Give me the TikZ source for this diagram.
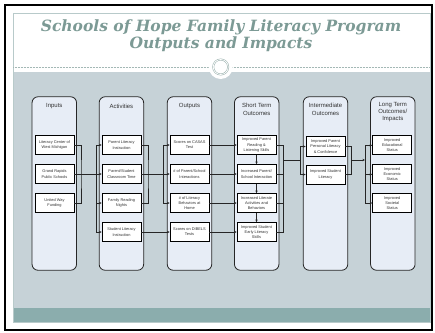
\documentclass[tikz,border=0pt]{standalone}
\usepackage{fontspec}
\setmainfont{Liberation Sans}
\newfontfamily\titlefont{DejaVu Serif}
\usetikzlibrary{arrows.meta,calc}
\definecolor{bodygray}{HTML}{C6D2D7}
\definecolor{colfill}{HTML}{E7EDF6}
\definecolor{tealband}{HTML}{8BADAD}
\definecolor{titlecol}{HTML}{7C9A95}
\definecolor{framecol}{HTML}{B8CACA}
\tikzset{
  colbox/.style={draw=black!85, line width=0.8pt, fill=colfill, rounded corners=6pt, minimum width=44.5pt, minimum height=173.5pt, inner sep=0pt},
  head/.style={font=\fontsize{6}{7.4}\selectfont, text=black!80, align=center, inner sep=0pt},
  item/.style={draw=black, line width=0.8pt, fill=white, minimum width=39pt, minimum height=19pt, inner sep=0.5pt, align=center, font=\fontsize{3.9}{5.3}\selectfont, text=black!80},
  conn/.style={line width=0.8pt, draw=black!85},
  arr/.style={conn, -{Stealth[length=2.6pt,width=2.4pt]}},
  ttl/.style={font=\titlefont\bfseries\itshape\fontsize{15.5}{16}\selectfont, text=titlecol, inner sep=0pt},
}
\begin{document}
\begin{tikzpicture}[x=1pt,y=-1pt]
\useasboundingbox (0,0) rectangle (435,332);
\fill[white] (0,0) rectangle (435,332);
% slide
\fill[bodygray] (13,72) rectangle (430,308);
\fill[tealband] (13,308) rectangle (430,322);
\draw[framecol, line width=0.6pt] (13,13) rectangle (430,322);
\draw[black, line width=2pt] (5,5) rectangle (432,330);
% title
\node[ttl] (t1) at (221,27) {Schools of Hope Family Literacy Program};
\node[ttl] (t2) at (221,44) {Outputs and Impacts};
\draw[titlecol!70, line width=0.5pt, densely dotted] (13,67) -- (430,67);
\fill[white] (220.7,67) circle (12pt);
\node[circle, draw=titlecol!80, double=white, double distance=0.8pt, line width=0.5pt, minimum size=15pt, fill=white] (circ) at (220.7,67) {};
% columns
\node[colbox] (cA) at (54.3,183.5) {};
\node[colbox] (cB) at (121.4,183.5) {};
\node[colbox] (cC) at (189.5,183.5) {};
\node[colbox] (cD) at (256.7,183.5) {};
\node[colbox] (cE) at (325.5,183.5) {};
\node[colbox] (cF) at (392.8,183.5) {};
\node[head] (hA) at (54.3,106) {Inputs};
\node[head] (hB) at (121.4,106) {Activities};
\node[head] (hC) at (189.5,106) {Outputs};
\node[head] (hD) at (256.7,109.5) {Short Term\\Outcomes};
\node[head] (hE) at (325.5,109.5) {Intermediate\\Outcomes};
\node[head] (hF) at (392.8,112) {Long Term\\Outcomes/\\Impacts};
% inputs
\node[item] (in1) at (54.5,145) {Literacy Center of\\West Michigan};
\node[item] (in2) at (54.5,174) {Grand Rapids\\Public Schools};
\node[item] (in3) at (54.5,203) {United Way\\Funding};
% activities
\node[item] (ac1) at (121.5,145) {Parent Literacy\\Instruction};
\node[item] (ac2) at (121.5,174) {Parent/Student\\Classroom Time};
\node[item] (ac3) at (121.5,203) {Family Reading\\Nights};
\node[item] (ac4) at (121.5,232) {Student Literacy\\Instruction};
% outputs
\node[item] (ou1) at (189.5,145) {Scores on CASAS\\Test};
\node[item] (ou2) at (189.5,174) {\# of Parent/School\\Interactions};
\node[item] (ou3) at (189.5,203) {\# of Literacy\\Behaviors at\\Home};
\node[item] (ou4) at (189.5,232) {Scores on DIBELS\\Tests};
% short term
\node[item] (st1) at (256.5,145) {Improved Parent\\Reading \&\\Listening Skills};
\node[item] (st2) at (256.5,174) {Increased Parent/\\School Interaction};
\node[item] (st3) at (256.5,203) {Increased Literate\\Activities and\\Behaviors};
\node[item] (st4) at (256.5,232) {Improved Student\\Early Literacy\\Skills};
% intermediate
\node[item, minimum height=20.5pt] (im1) at (325.5,146.5) {Improved Parent\\Personal Literacy\\\& Confidence};
\node[item] (im2) at (325.5,174.5) {Improved Student\\Literacy};
% long term
\node[item] (lt1) at (392.2,145.3) {Improved\\Educational\\Status};
\node[item] (lt2) at (392.2,174.3) {Improved\\Economic\\Status};
\node[item] (lt3) at (392.2,203) {Improved\\Societal\\Status};
% junctions
\coordinate (jA) at (81,174);
\coordinate (bA) at (96,174);
\coordinate (jB) at (148,174);
\coordinate (bB) at (163,174);
\coordinate (jC) at (283.7,160);
\coordinate (bC) at (300,160);
\coordinate (jD) at (351.7,160);
\coordinate (bD) at (365,160);
% inputs -> activities
\draw[conn] (in1.east) -| (jA) |- (in3.east);
\draw[arr] (in2.east) -- (ac2.west);
\draw[arr] (bA) |- (ac1.west);
\draw[arr] (bA) |- (ac3.west);
\draw[arr] (bA) |- (ac4.west);
% activities -> outputs
\draw[conn] (ac1.east) -| (jB) |- (ac3.east);
\draw[arr] (ac2.east) -- (ou2.west);
\draw[arr] (bB) |- (ou1.west);
\draw[arr] (bB) |- (ou3.west);
\draw[arr] (ac4.east) -- (ou4.west);
% outputs -> short term
\draw[arr] (ou1.east) -- (st1.west);
\draw[arr] (ou2.east) -- (st2.west);
\draw[arr] (ou3.east) -- (st3.west);
\draw[arr] (ou4.east) -- (st4.west);
\draw[arr] (st1.south) -- (st2.north);
\draw[arr] (st2.south) -- (st3.north);
\draw[arr] (st3.south) -- (st4.north);
% short term -> intermediate
\draw[conn] (st1.east) -| (jC) |- (st4.east);
\draw[conn] (st2.east) -| (jC);
\draw[conn] (st3.east) -| (jC);
\draw[conn] (jC) -- (bC);
\draw[arr] (bC) |- (im1.west);
\draw[arr] (bC) |- (im2.west);
% intermediate -> long term
\draw[conn] (im1.east) -| (jD) |- (im2.east);
\draw[arr] (jD) -- (bD);
\draw[arr] (bD) |- (lt1.west);
\draw[arr] (bD) |- (lt2.west);
\draw[arr] (bD) |- (lt3.west);
\end{tikzpicture}
\end{document}
